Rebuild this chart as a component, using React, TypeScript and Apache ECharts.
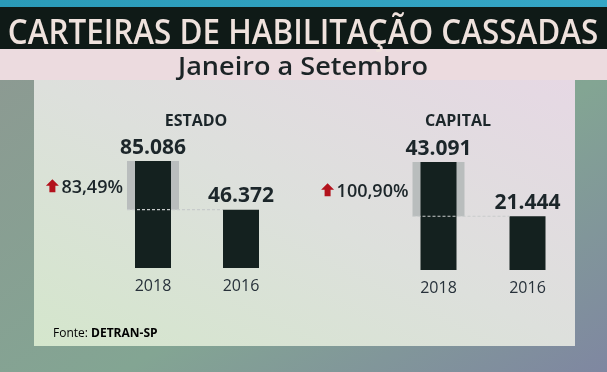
import React, { useEffect, useRef } from "react";
import * as echarts from "echarts";

const years = ["2018", "2016"];
const estadoValues = [85086, 46372];
const capitalValues = [43091, 21444];
const panelTitles = ["ESTADO", "CAPITAL"];
const changeLabels = ["83,49%", "100,90%"];
const mainTitle = "CARTEIRAS DE HABILITAÇÃO CASSADAS";
const subTitle = "Janeiro a Setembro";
const sourceLabel = "Fonte: ";
const sourceName = "DETRAN-SP";

const FONT = '"Open Sans", "Noto Sans", sans-serif';
const INK = "#1c262a";
const BAR = "#14211f";

function fmt(v: number): string {
  return String(v).replace(/\B(?=(\d{3})+(?!\d))/g, ".");
}

function measure(text: string, font: string): number {
  const c = document.createElement("canvas").getContext("2d");
  if (!c) return text.length * 10;
  c.font = font;
  return c.measureText(text).width;
}

export default function App() {
  const ref = useRef<HTMLDivElement>(null);

  useEffect(() => {
    if (!ref.current) return;
    const chart = echarts.init(ref.current, undefined, { renderer: "svg" });

    const panels = [estadoValues, capitalValues];
    const grids = [
      { left: 109, width: 176, top: 161, height: 107 },
      { left: 394, width: 178, top: 162, height: 108 },
    ];
    const titleX = [196, 458];

    const pctFont = `600 18px ${FONT}`;
    const titleFont = `600 35px ${FONT}`;
    const subFont = `600 25px ${FONT}`;
    const titleScale = 591 / measure(mainTitle, titleFont);
    const subScale = 250 / measure(subTitle, subFont);

    const series: any[] = [];
    panels.forEach((vals, i) => {
      // gray highlight (increase) behind the 2018 bar
      series.push({
        type: "custom",
        xAxisIndex: i,
        yAxisIndex: i,
        z: 1,
        silent: true,
        data: [[0, vals[1], vals[0]]],
        renderItem: (params: any, api: any) => {
          const top = api.coord([api.value(0), api.value(2)]);
          const low = api.coord([api.value(0), api.value(1)]);
          const half = 26;
          return {
            type: "rect",
            shape: { x: top[0] - half, y: top[1], width: half * 2, height: low[1] - top[1] },
            style: { fill: "#b9bdbd" },
          };
        },
      });
      series.push({
        type: "bar",
        xAxisIndex: i,
        yAxisIndex: i,
        z: 3,
        barWidth: 36,
        data: vals,
        itemStyle: { color: BAR },
        label: {
          show: true,
          position: "top",
          distance: 5,
          formatter: (p: any) => fmt(p.value),
          fontFamily: FONT,
          fontSize: 21,
          fontWeight: "bold",
          color: INK,
        },
      });
      // dashed reference line, percent label and arrow
      series.push({
        type: "custom",
        xAxisIndex: i,
        yAxisIndex: i,
        z: 5,
        silent: true,
        data: [[0, vals[1], vals[0]]],
        renderItem: (params: any, api: any) => {
          const top = api.coord([0, api.value(2)]);
          const low = api.coord([0, api.value(1)]);
          const other = api.coord([1, api.value(1)]);
          const half = 26;
          const left = top[0] - half;
          const midY = (top[1] + low[1]) / 2;
          const label = changeLabels[i];
          const tw = measure(label, pctFont);
          const textRight = left - 4;
          const ax = textRight - tw - 9;
          const at = midY - 6;
          return {
            type: "group",
            children: [
              {
                type: "line",
                shape: { x1: left, y1: low[1], x2: other[0] - 18, y2: low[1] },
                style: { stroke: "#c7cbcb", lineWidth: 1.2, lineDash: [3, 2] },
              },
              {
                type: "text",
                x: textRight,
                y: midY + 1,
                style: {
                  text: label,
                  align: "right",
                  verticalAlign: "middle",
                  font: pctFont,
                  fill: INK,
                },
              },
              {
                type: "polygon",
                shape: {
                  points: [
                    [ax, at],
                    [ax + 6.5, at + 6.5],
                    [ax + 3, at + 6.5],
                    [ax + 3, at + 13],
                    [ax - 3, at + 13],
                    [ax - 3, at + 6.5],
                    [ax - 6.5, at + 6.5],
                  ],
                },
                style: { fill: "#b3121c" },
              },
            ],
          };
        },
      });
    });

    const option: any = {
      animation: false,
      grid: grids,
      xAxis: grids.map((_, i) => ({
        type: "category",
        gridIndex: i,
        data: years,
        axisLine: { show: false },
        axisTick: { show: false },
        axisLabel: { fontFamily: FONT, fontSize: 16, color: "#27313a", margin: 9 },
      })),
      yAxis: panels.map((vals, i) => ({
        type: "value",
        gridIndex: i,
        min: 0,
        max: vals[0],
        show: false,
      })),
      series,
      graphic: [
        {
          type: "rect",
          z: -10,
          shape: { x: 0, y: 0, width: 607, height: 372 },
          style: {
            fill: new echarts.graphic.LinearGradient(0, 0, 1, 1, [
              { offset: 0, color: "#8e9892" },
              { offset: 0.6, color: "#83a593" },
              { offset: 1, color: "#7f87a1" },
            ]),
          },
        },
        {
          type: "rect",
          z: -9,
          shape: { x: 0, y: 0, width: 607, height: 8 },
          style: {
            fill: new echarts.graphic.LinearGradient(0, 0, 1, 0, [
              { offset: 0, color: "#2a9ab8" },
              { offset: 1, color: "#35a6c6" },
            ]),
          },
        },
        {
          type: "rect",
          z: -9,
          shape: { x: 0, y: 7, width: 607, height: 42 },
          style: { fill: "#0f1a17" },
        },
        {
          type: "rect",
          z: -9,
          shape: { x: 0, y: 49, width: 607, height: 31 },
          style: { fill: "#ecdbdf" },
        },
        {
          type: "rect",
          z: -9,
          shape: { x: 34, y: 80, width: 541, height: 266 },
          style: {
            fill: new echarts.graphic.LinearGradient(0, 1, 1, 0, [
              { offset: 0, color: "#d4e6cc" },
              { offset: 0.5, color: "#dde0dc" },
              { offset: 1, color: "#e6d8e4" },
            ]),
          },
        },
        {
          type: "text",
          x: 303,
          y: 30,
          scaleX: titleScale,
          style: {
            text: mainTitle,
            align: "center",
            verticalAlign: "middle",
            font: titleFont,
            fill: "#efe2dd",
          },
        },
        {
          type: "text",
          x: 303,
          y: 65,
          scaleX: subScale,
          style: {
            text: subTitle,
            align: "center",
            verticalAlign: "middle",
            font: subFont,
            fill: "#1c2426",
          },
        },
        ...panelTitles.map((t, i) => ({
          type: "text",
          x: titleX[i],
          y: 120,
          style: {
            text: t,
            align: "center",
            verticalAlign: "middle",
            font: `bold 16px ${FONT}`,
            fill: INK,
          },
        })),
        {
          type: "text",
          x: 53,
          y: 332,
          style: {
            text: `{a|${sourceLabel}}{b|${sourceName}}`,
            verticalAlign: "middle",
            rich: {
              a: { fontFamily: FONT, fontSize: 12, color: "#6c7172" },
              b: { fontFamily: FONT, fontSize: 12, fontWeight: "bold", color: "#1b2326" },
            },
          },
        },
      ],
    };

    chart.setOption(option);
    return () => chart.dispose();
  }, []);

  return (
    <div
      ref={ref}
      style={{ position: "fixed", left: 0, top: 0, width: 607, height: 372 }}
    />
  );
}
